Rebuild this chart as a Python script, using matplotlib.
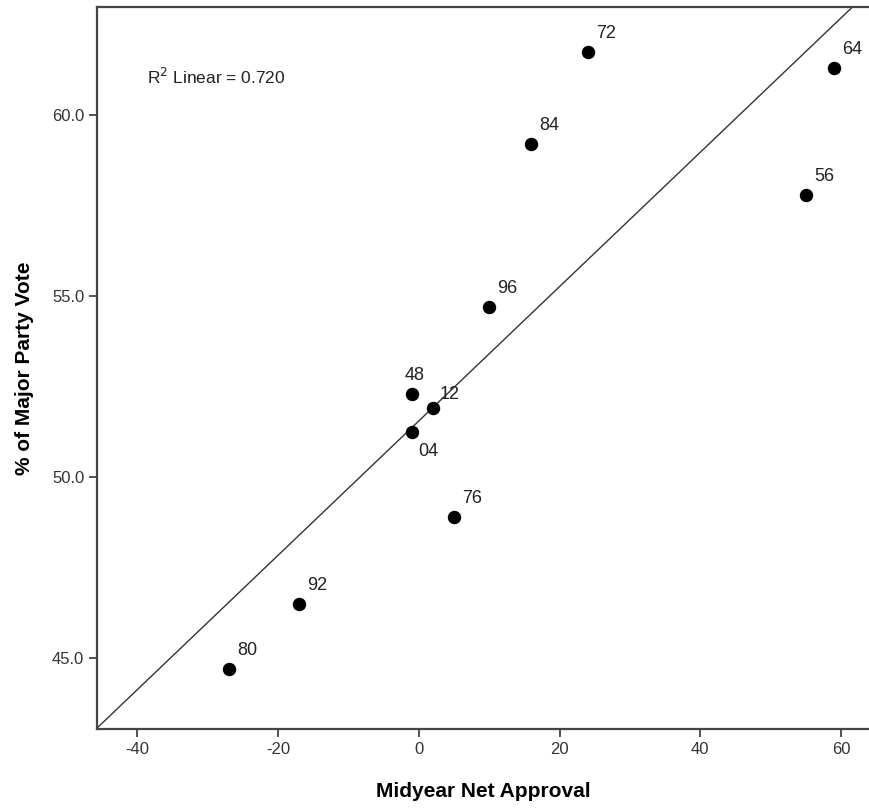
import matplotlib
matplotlib.use("Agg")
import matplotlib.pyplot as plt
import numpy as np

# --- data ---
years = ['72', '64', '56', '84', '96', '48', '12', '04', '76', '92', '80']
approval = [24, 59, 55, 16, 10, -1, 2, -1, 5, -17, -27]
vote = [61.75, 61.3, 57.8, 59.2, 54.7, 52.3, 51.9, 51.25, 48.9, 46.5, 44.7]
# label offsets (points) so they don't collide
label_offsets = {'48': (-5, 7), '04': (5, -20), '12': (5, 4)}

plt.rcParams['font.family'] = ['Liberation Sans', 'DejaVu Sans']
plt.rcParams['axes.unicode_minus'] = False

fig = plt.figure(figsize=(8.7, 8.09), dpi=100)
ax = fig.add_axes([0.112, 0.099, 0.888, 0.892])

x = np.array(approval)
y = np.array(vote)
slope, intercept = np.polyfit(x, y, 1)

xs = np.array([-46, 66])
ax.plot(xs, slope * xs + intercept, color='#333333', lw=1.0, zorder=1)
ax.scatter(x, y, s=75, color='black', zorder=3)

for yr, xi, yi in zip(years, approval, vote):
    off = label_offsets.get(yr, (6, 7))
    ax.annotate(yr, (xi, yi), xytext=off, textcoords='offset points',
                fontsize=13, color='#222222', ha='left', va='bottom')

ax.text(-38.6, 61.05, 'R$^2$ Linear = 0.720', fontsize=12.5, color='#222222',
        va='center', ha='left')

ax.set_xlim(-45.65, 64.1)
ax.set_ylim(43.05, 62.98)
ax.set_xticks([-40, -20, 0, 20, 40, 60])
ax.set_yticks([45, 50, 55, 60])
ax.set_yticklabels(['45.0', '50.0', '55.0', '60.0'])
ax.tick_params(direction='out', length=6, width=1.2, color='#333333',
               labelsize=12, labelcolor='#333333')
for side in ['left', 'bottom', 'top']:
    ax.spines[side].set_color('#444444')
    ax.spines[side].set_linewidth(1.6)
ax.spines['right'].set_visible(False)

lab_font = dict(fontweight='bold', fontsize=15)
ax.set_xlabel('Midyear Net Approval', labelpad=18, **lab_font)
ax.set_ylabel('% of Major Party Vote', labelpad=13, **lab_font)

plt.savefig('out.png', dpi=100)
